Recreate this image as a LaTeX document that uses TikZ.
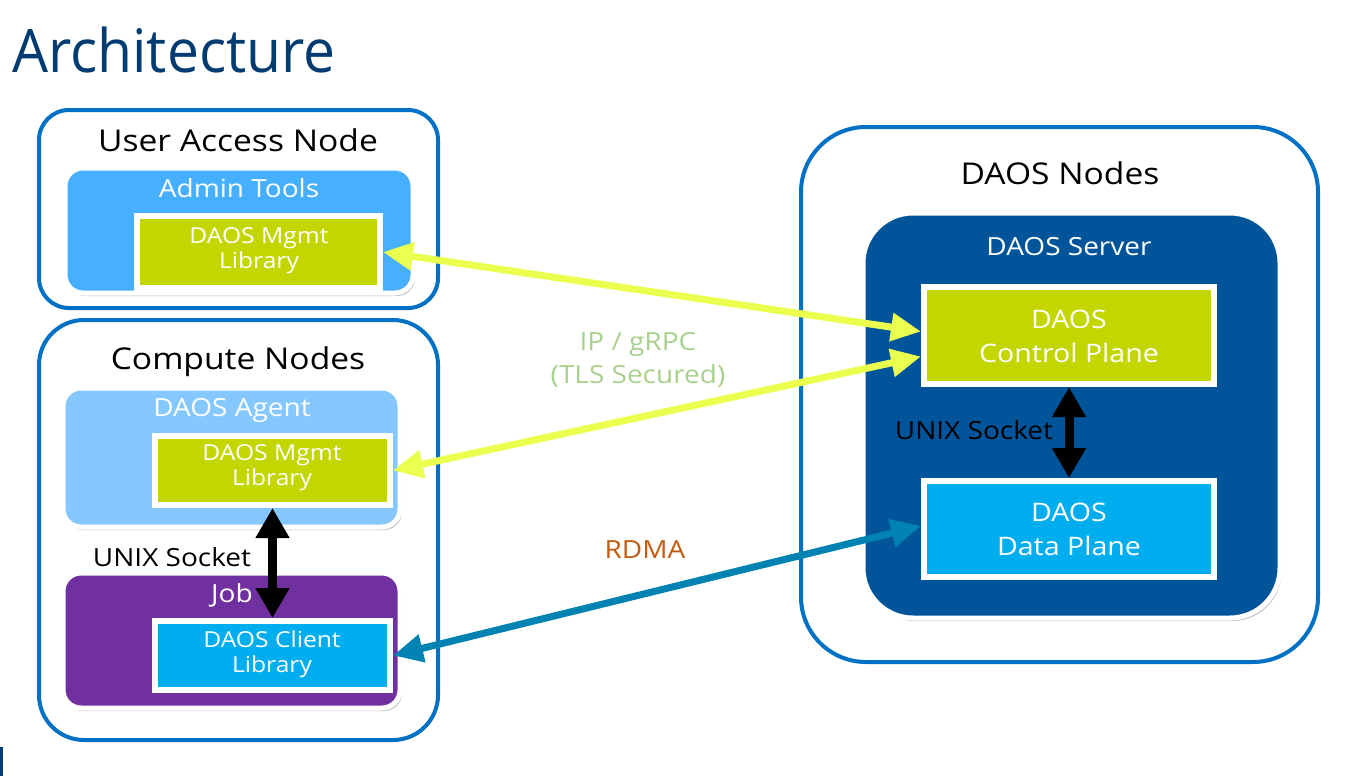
\documentclass[tikz,border=0pt]{standalone}
\usepackage{fontspec}
\setmainfont{Open Sans}[FakeStretch=1.12]
\newfontfamily\titlefont{Open Sans}[FakeStretch=0.95]
\usetikzlibrary{arrows.meta,shadows}
\definecolor{titleblue}{HTML}{003C71}
\definecolor{edgeblue}{HTML}{0071C5}
\definecolor{admincol}{HTML}{47AFFF}
\definecolor{agentcol}{HTML}{85C8FF}
\definecolor{libgreen}{HTML}{C4D600}
\definecolor{jobpurple}{HTML}{7030A0}
\definecolor{clientblue}{HTML}{00AEEF}
\definecolor{serverblue}{HTML}{00559A}
\definecolor{ipyellow}{HTML}{EBFF4F}
\definecolor{rdmateal}{HTML}{0083B3}
\definecolor{iptext}{HTML}{A9D18E}
\definecolor{rdmatext}{HTML}{C55A11}
\tikzset{
  outerbox/.style={draw=edgeblue, line width=4pt, fill=white, inner sep=0pt},
  midbox/.style={draw=white, line width=5pt, inner sep=0pt, rounded corners=18pt,
    drop shadow={shadow xshift=2pt, shadow yshift=-3pt, opacity=0.25, fill=black}},
  libbox/.style={draw=white, line width=6pt, inner sep=0pt, text=white,
    drop shadow={shadow xshift=2pt, shadow yshift=-2pt, opacity=0.25, fill=black}},
  titletext/.style={font=\fontsize{30}{36}\selectfont, text=black},
  midtext/.style={font=\fontsize{25}{30}\selectfont, text=white},
  libtext/.style={font=\fontsize{22}{25}\selectfont, text=white, align=center},
  bigtext/.style={font=\fontsize{25.5}{34}\selectfont, text=white, align=center},
  socktext/.style={font=\fontsize{25}{30}\selectfont, text=black},
  bothway/.style={line width=7pt, {Triangle[length=30pt,width=27pt]}-{Triangle[length=30pt,width=27pt]}, shorten <=0pt, shorten >=0pt},
  blackway/.style={line width=9pt, black, {Triangle[length=30pt,width=32pt]}-{Triangle[length=30pt,width=32pt]}},
}
\begin{document}
\begin{tikzpicture}[x=1pt,y=-1pt]
\useasboundingbox (0,0) rectangle (1351,776);
\fill[white] (0,0) rectangle (1351,776);
\fill[titleblue] (0,747) rectangle (3,776);

% title
\node[anchor=base west, inner sep=0pt, text=titleblue, font=\titlefont\fontsize{60}{70}\selectfont] (title) at (12,72) {Architecture};

% outer containers
\node[outerbox, rounded corners=30pt, minimum width=399pt, minimum height=198pt] (uan) at (238.5,209) {};
\node[outerbox, rounded corners=45pt, minimum width=399pt, minimum height=420pt] (cn) at (238.5,530) {};
\node[outerbox, rounded corners=65pt, minimum width=517pt, minimum height=535pt] (dn) at (1059.5,394.5) {};

\node[titletext] (uantitle) at (238,140) {User Access Node};
\node[titletext] (cntitle) at (238,362) {Compute Nodes};
\node[titletext] (dntitle) at (1060,173) {DAOS Nodes};

% middle boxes
\node[midbox, fill=admincol, minimum width=348pt, minimum height=125pt] (admin) at (239,230.5) {};
\node[midbox, fill=agentcol, minimum width=337pt, minimum height=139pt] (agent) at (231.5,457.5) {};
\node[midbox, fill=jobpurple, minimum width=337pt, minimum height=135pt] (job) at (231.5,640.5) {};
\node[midbox, fill=serverblue, rounded corners=50pt, minimum width=417pt, minimum height=405pt] (server) at (1071.5,415.5) {};

\node[midtext] (admintitle) at (239,188) {Admin Tools};
\node[midtext] (agenttitle) at (232,410) {DAOS Agent};
\node[midtext] (jobtitle) at (232,595) {Job};
\node[midtext] (servertitle) at (1069,247) {DAOS Server};

% library boxes
\node[libbox, fill=libgreen, minimum width=243pt, minimum height=72pt] (mgmt1) at (258.5,252) {};
\node[libtext] (mgmt1text) at (259,251) {DAOS Mgmt\\Library};
\node[libbox, fill=libgreen, minimum width=235pt, minimum height=69pt] (mgmt2) at (272.5,470.5) {};
\node[libtext] (mgmt2text) at (272,468) {DAOS Mgmt\\Library};
\node[libbox, fill=clientblue, minimum width=235pt, minimum height=69pt] (client) at (272.5,655.5) {};
\node[libtext] (clienttext) at (272,654) {DAOS Client\\Library};
\node[libbox, fill=libgreen, minimum width=290pt, minimum height=97pt] (cp) at (1069,335.5) {};
\node[bigtext] (cptext) at (1069,336) {DAOS\\Control Plane};
\node[libbox, fill=clientblue, minimum width=290pt, minimum height=96pt] (dp) at (1069,529) {};
\node[bigtext] (dptext) at (1069,529) {DAOS\\Data Plane};

% socket labels
\node[socktext] (sock1) at (172,557) {UNIX Socket};
\node[socktext] (sock2) at (974,430) {UNIX Socket};

% black arrows
\draw[blackway] (mgmt2.south) -- (client.north);
\draw[blackway] (cp.south) -- (dp.north);

% network arrows
\draw[bothway, ipyellow] (mgmt1.east) -- ([yshift=4pt]cp.west);
\draw[bothway, ipyellow] (mgmt2.east) -- ([yshift=-21pt]cp.west);
\draw[bothway, rdmateal] (client.east) -- ([yshift=3pt]dp.west);

% network labels
\node[font=\fontsize{25}{33}\selectfont, text=iptext, align=center] (iplabel) at (638,360) {IP / gRPC\\(TLS Secured)};
\node[font=\fontsize{25}{30}\selectfont, text=rdmatext] (rdmalabel) at (645,550) {RDMA};
\end{tikzpicture}
\end{document}
